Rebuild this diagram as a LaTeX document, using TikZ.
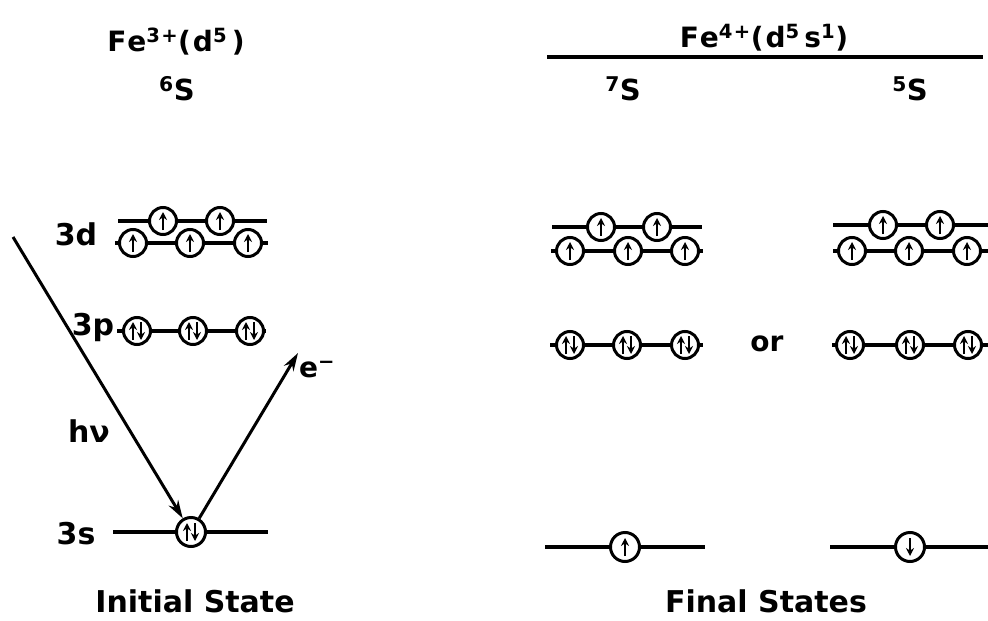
\documentclass[tikz,border=0pt]{standalone}
\usepackage{fontspec}
\setmainfont{DejaVu Sans}
\usetikzlibrary{arrows.meta,calc}
\tikzset{
 orb/.style={circle,draw,line width=3pt,fill=white,minimum size=27pt,inner sep=0pt},
 bigorb/.style={orb,minimum size=29pt},
 lvl/.style={line width=3.8pt},
 el/.style={line width=2.6pt,-{Stealth[length=8pt,width=8pt]}},
 ray/.style={line width=3pt,-{Stealth[length=18pt,width=11pt]}},
 lab/.style={inner sep=0pt,font=\fontsize{30}{30}\selectfont\bfseries},
 ttl/.style={inner sep=0pt,font=\fontsize{28}{28}\selectfont\bfseries\addfontfeature{LetterSpace=7}},
 term/.style={inner sep=0pt,font=\fontsize{29}{29}\selectfont\bfseries},
 captext/.style={inner sep=0pt,font=\fontsize{30}{30}\selectfont\bfseries}
}
\newcommand\eup[1]{\draw[el] ([yshift=-9pt]#1.center) -- ([yshift=9pt]#1.center);}
\newcommand\edn[1]{\draw[el] ([yshift=9pt]#1.center) -- ([yshift=-9pt]#1.center);}
\newcommand\epair[1]{\draw[el] ([xshift=-4pt,yshift=-9pt]#1.center) -- ([xshift=-4pt,yshift=9pt]#1.center); \draw[el] ([xshift=4pt,yshift=9pt]#1.center) -- ([xshift=4pt,yshift=-9pt]#1.center);}
\begin{document}
\begin{tikzpicture}[x=1pt,y=-1pt]
\useasboundingbox (0,0) rectangle (988,621);
% ---------- titles ----------
\node[ttl] (tL) at (176,42) {Fe\textsuperscript{3+}(d\textsuperscript{5}\,)};
\node[term] (sL) at (177,89) {\textsuperscript{6}S};
\node[ttl] (tR) at (764,38) {Fe\textsuperscript{4+}(d\textsuperscript{5}\,s\textsuperscript{1})};
\coordinate (trl) at (547,57);
\coordinate (trr) at (983,57);
\draw[lvl] (trl) -- (trr);
\node[term] (s7) at (623,89) {\textsuperscript{7}S};
\node[term] (s5) at (910,89) {\textsuperscript{5}S};
% ---------- level labels ----------
\node[lab] (l3d) at (76,234) {3d};
\node[lab] (l3p) at (93,327) {3p};
\node[lab] (l3s) at (76,534) {3s};
% ---------- initial state ----------
% 3d
\node[orb] (Ldu1) at (163,221) {};
\node[orb] (Ldu2) at (220,221) {};
\node[orb] (Ldl1) at (133,243) {};
\node[orb] (Ldl2) at (190,243) {};
\node[orb] (Ldl3) at (248,243) {};
\coordinate (Ldua) at (118,221); \coordinate (Ldub) at (267,221);
\coordinate (Ldla) at (115,243); \coordinate (Ldlb) at (268,243);
\draw[lvl] (Ldua) -- (Ldu1) -- (Ldu2) -- (Ldub);
\draw[lvl] (Ldla) -- (Ldl1) -- (Ldl2) -- (Ldl3) -- (Ldlb);
\eup{Ldu1}\eup{Ldu2}\eup{Ldl1}\eup{Ldl2}\eup{Ldl3}
% 3p
\node[orb] (Lp1) at (137,331) {};
\node[orb] (Lp2) at (193,331) {};
\node[orb] (Lp3) at (250,331) {};
\coordinate (Lpa) at (117,331); \coordinate (Lpb) at (266,331);
\draw[lvl] (Lpa) -- (Lp1) -- (Lp2) -- (Lp3) -- (Lpb);
\epair{Lp1}\epair{Lp2}\epair{Lp3}
% 3s
\node[bigorb] (Ls) at (191,532) {};
\coordinate (Lsa) at (113,532); \coordinate (Lsb) at (268,532);
\draw[lvl] (Lsa) -- (Ls) -- (Lsb);
\epair{Ls}
% photon and electron
\coordinate (hvs) at (13,237);
\draw[ray] (hvs) -- (Ls);
\node[lab] (hv) at (89,431) {hν};
\coordinate (eend) at (298,353);
\draw[ray] (Ls) -- (eend);
\node[lab,font=\fontsize{28}{28}\selectfont\bfseries] (em) at (317,370) {e\textsuperscript{−}};
\node[captext] (ini) at (195,601) {Initial State};
% ---------- final state 7S ----------
\node[orb] (Sdu1) at (601,227) {};
\node[orb] (Sdu2) at (657,227) {};
\node[orb] (Sdl1) at (570,251) {};
\node[orb] (Sdl2) at (628,251) {};
\node[orb] (Sdl3) at (685,251) {};
\coordinate (Sdua) at (552,227); \coordinate (Sdub) at (702,227);
\coordinate (Sdla) at (551,251); \coordinate (Sdlb) at (703,251);
\draw[lvl] (Sdua) -- (Sdu1) -- (Sdu2) -- (Sdub);
\draw[lvl] (Sdla) -- (Sdl1) -- (Sdl2) -- (Sdl3) -- (Sdlb);
\eup{Sdu1}\eup{Sdu2}\eup{Sdl1}\eup{Sdl2}\eup{Sdl3}
\node[orb] (Sp1) at (570,345) {};
\node[orb] (Sp2) at (627,345) {};
\node[orb] (Sp3) at (685,345) {};
\coordinate (Spa) at (550,345); \coordinate (Spb) at (703,345);
\draw[lvl] (Spa) -- (Sp1) -- (Sp2) -- (Sp3) -- (Spb);
\epair{Sp1}\epair{Sp2}\epair{Sp3}
\node[bigorb] (Ss) at (625,547) {};
\coordinate (Ssa) at (545,547); \coordinate (Ssb) at (705,547);
\draw[lvl] (Ssa) -- (Ss) -- (Ssb);
\eup{Ss}
% ---------- or ----------
\node[lab,font=\fontsize{28}{28}\selectfont\bfseries] (or) at (767,344) {or};
% ---------- final state 5S ----------
\node[orb] (Qdu1) at (883,225) {};
\node[orb] (Qdu2) at (940,225) {};
\node[orb] (Qdl1) at (852,251) {};
\node[orb] (Qdl2) at (909,251) {};
\node[orb] (Qdl3) at (967,251) {};
\coordinate (Qdua) at (833,225); \coordinate (Qdub) at (988,225);
\coordinate (Qdla) at (833,251); \coordinate (Qdlb) at (988,251);
\draw[lvl] (Qdua) -- (Qdu1) -- (Qdu2) -- (Qdub);
\draw[lvl] (Qdla) -- (Qdl1) -- (Qdl2) -- (Qdl3) -- (Qdlb);
\eup{Qdu1}\eup{Qdu2}\eup{Qdl1}\eup{Qdl2}\eup{Qdl3}
\node[orb] (Qp1) at (850,345) {};
\node[orb] (Qp2) at (910,345) {};
\node[orb] (Qp3) at (968,345) {};
\coordinate (Qpa) at (832,345); \coordinate (Qpb) at (988,345);
\draw[lvl] (Qpa) -- (Qp1) -- (Qp2) -- (Qp3) -- (Qpb);
\epair{Qp1}\epair{Qp2}\epair{Qp3}
\node[bigorb] (Qs) at (910,547) {};
\coordinate (Qsa) at (830,547); \coordinate (Qsb) at (988,547);
\draw[lvl] (Qsa) -- (Qs) -- (Qsb);
\edn{Qs}
\node[captext] (fin) at (766,601) {Final States};
\end{tikzpicture}
\end{document}
